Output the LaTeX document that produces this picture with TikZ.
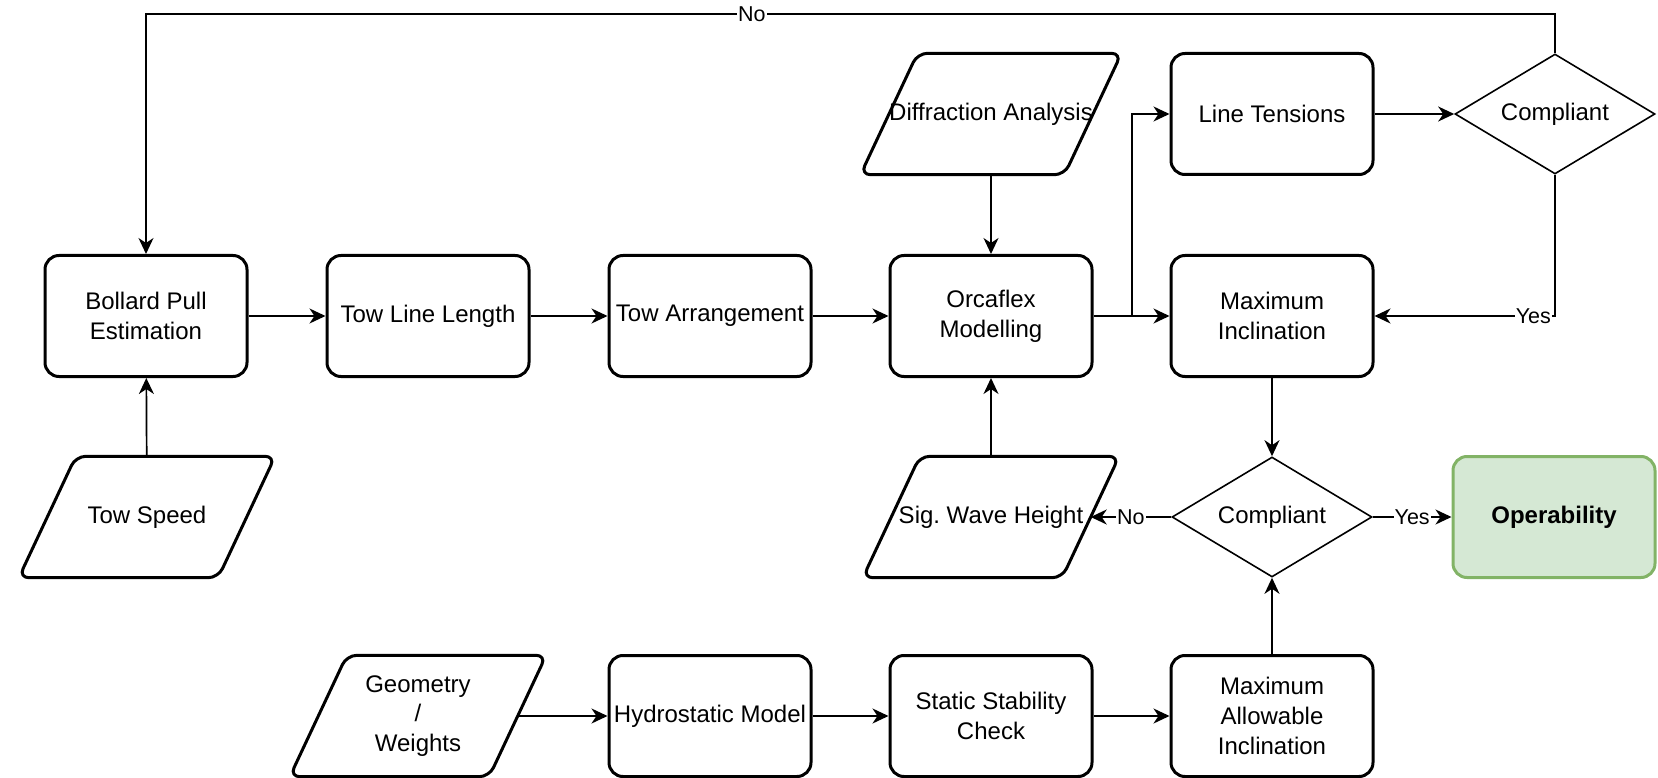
\documentclass[tikz,border=0pt]{standalone}
\usepackage{fontspec}
\setmainfont{Liberation Sans}
\usetikzlibrary{arrows.meta,shapes.geometric}
\definecolor{opfill}{HTML}{D5E8D4}
\definecolor{opline}{HTML}{82B366}
\frenchspacing
\begin{document}
\begin{tikzpicture}[x=1pt,y=-1pt,
  every node/.style={font=\fontsize{24}{29.6}\selectfont, align=center},
  proc/.style={draw, line width=3pt, rounded corners=14pt, minimum width=202pt,
    minimum height=121pt, inner sep=0pt},
  io/.style={minimum width=199pt, minimum height=121pt, inner sep=0pt},
  iobord/.style={line width=3pt, rounded corners=10pt, line join=round},
  dec/.style={draw, diamond, line width=1.6pt, minimum width=200pt,
    minimum height=120pt, inner sep=0pt, aspect=1.667},
  goal/.style={proc, fill=opfill, draw=opline, font=\fontsize{24}{29.6}\selectfont\bfseries},
  conn/.style={line width=1.7pt, -{Stealth[length=16pt,width=15pt,inset=5pt]}},
  lbl/.style={fill=white, inner sep=1pt, font=\fontsize{21.5}{26}\selectfont}
]
\useasboundingbox (0,0) rectangle (1658,778);

% main row
\node[proc] (bollard) at (146,316) {Bollard Pull\\Estimation};
\node[proc] (towlen)  at (428,316) {Tow Line Length};
\node[proc] (towarr)  at (710,316) {Tow Arrangement};
\node[proc] (orca)    at (991,316) {Orcaflex\\Modelling};
\node[proc] (maxinc)  at (1272,316) {Maximum\\Inclination};

% top row
\node[io]   (diff)  at (991,114) {Diffraction Analysis};
\node[proc] (lt)    at (1272,114) {Line Tensions};
\node[dec]  (comp1) at (1555,114) {Compliant};

% middle row
\node[io]   (speed) at (147,517) {Tow Speed};
\node[io]   (wave)  at (991,517) {Sig. Wave Height};
\node[dec]  (comp2) at (1272,517) {Compliant};
\node[goal] (oper)  at (1554,517) {Operability};

% bottom row
\node[io]   (geo)    at (418,716) {Geometry\\/\\Weights};
\node[proc] (hydro)  at (710,716) {Hydrostatic Model};
\node[proc] (stat)   at (991,716) {Static Stability\\Check};
\node[proc] (maxall) at (1272,716) {Maximum\\Allowable\\Inclination};

% input/output parallelograms around the data nodes
\foreach \n in {diff,speed,wave,geo}
  \draw[iobord] ([xshift=-28.5pt]\n.south west) -- ([xshift=-28.5pt]\n.south east)
    -- ([xshift=28.5pt]\n.north east) -- ([xshift=28.5pt]\n.north west) -- cycle;

% connectors
\coordinate (split) at (1132,316);
\coordinate (topturn) at (1555,14);

\draw[conn] (bollard) -- (towlen);
\draw[conn] (towlen) -- (towarr);
\draw[conn] (towarr) -- (orca);
\draw[conn] (orca.east) -- (maxinc.west);
\draw[conn] (split) |- (lt.west);
\draw[conn] (lt) -- (comp1);
\draw[conn] (diff) -- (orca);
\draw[conn] (speed) -- (bollard);
\draw[conn] (wave) -- (orca);
\draw[conn] (comp1.south) |- node[lbl,pos=0.56] {Yes} (maxinc.east);
\draw[conn] (comp1.north) -- (topturn) -| node[lbl,pos=0.285] {No} (bollard.north);
\draw[conn] (maxinc) -- (comp2);
\draw[conn] (comp2.west) -- node[lbl] {No} (wave.east);
\draw[conn] (comp2.east) -- node[lbl] {Yes} (oper.west);
\draw[conn] (geo.east) -- (hydro.west);
\draw[conn] (hydro) -- (stat);
\draw[conn] (stat) -- (maxall);
\draw[conn] (maxall) -- (comp2);
\end{tikzpicture}
\end{document}
